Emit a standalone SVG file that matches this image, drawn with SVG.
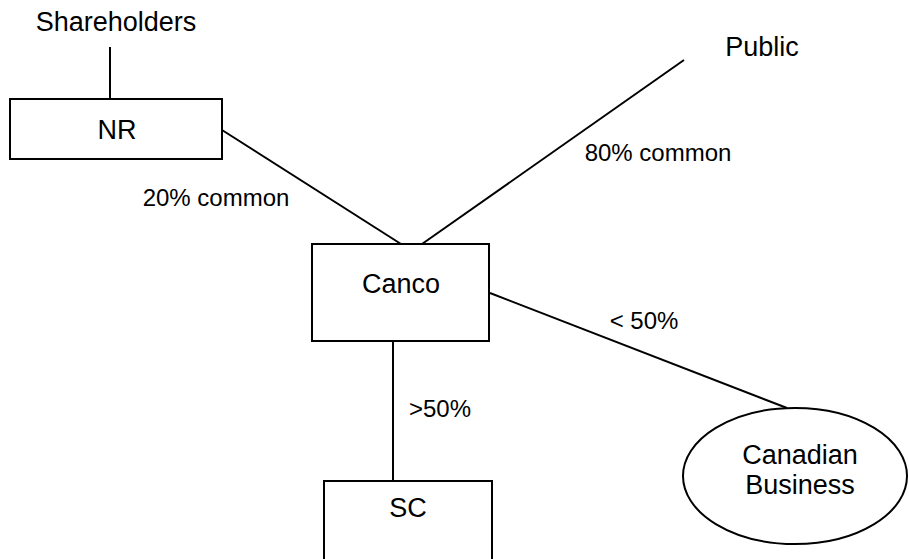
<svg xmlns="http://www.w3.org/2000/svg" width="909" height="559" viewBox="0 0 909 559">
<style>
.box{fill:#fff;stroke:#000;stroke-width:2}
.ln{stroke:#000;stroke-width:2;fill:none}
text{font-family:"Liberation Sans",Arial,sans-serif;font-size:27px;fill:#000;text-anchor:middle}
text.lbl{font-size:24px}
</style>
<rect width="909" height="559" fill="#fff"/>
<g id="connectors">
<line class="ln" x1="110" y1="47" x2="110" y2="99"/>
<line class="ln" x1="222" y1="130" x2="401" y2="244"/>
<line class="ln" x1="684" y1="60" x2="422" y2="244"/>
<line class="ln" x1="490" y1="293" x2="787" y2="408"/>
<line class="ln" x1="393" y1="341" x2="393" y2="481"/>
<text class="lbl" x="216" y="206">20% common</text>
<text class="lbl" x="658" y="161">80% common</text>
<text class="lbl" x="644" y="329">&lt; 50%</text>
<text class="lbl" x="440" y="417">&gt;50%</text>
</g>
<g id="shareholders"><text x="116" y="31">Shareholders</text></g>
<g id="public"><text x="762" y="56">Public</text></g>
<g id="nr"><rect class="box" x="10" y="99" width="212" height="60"/><text x="117" y="139">NR</text></g>
<g id="canco"><rect class="box" x="312" y="244" width="177" height="97"/><text x="401" y="293">Canco</text></g>
<g id="sc"><rect class="box" x="324" y="481" width="168" height="90"/><text x="408" y="517">SC</text></g>
<g id="canadian-business"><ellipse class="box" cx="795" cy="476" rx="112" ry="68"/><text x="800" y="464">Canadian</text><text x="800" y="494">Business</text></g>
</svg>
